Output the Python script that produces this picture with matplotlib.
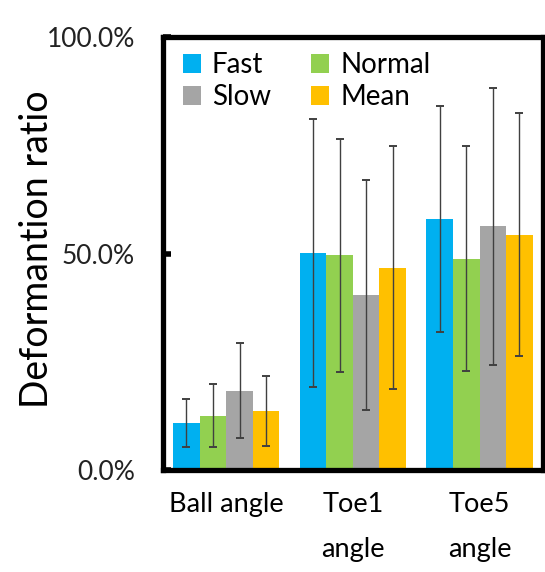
import matplotlib.pyplot as plt
import numpy as np
from matplotlib.ticker import PercentFormatter

plt.rcParams["font.family"] = ["Lato", "DejaVu Sans"]

categories = ["Ball angle", "Toe1\nangle", "Toe5\nangle"]
series = ["Fast", "Normal", "Slow", "Mean"]
colors = ["#00B0F0", "#92D050", "#A5A5A5", "#FFC000"]

fast = [10.9, 50.2, 58.0]
normal = [12.6, 49.6, 48.8]
slow = [18.4, 40.5, 56.3]
mean = [13.7, 46.8, 54.4]

fast_err = [5.5, 31.0, 26.0]
normal_err = [7.3, 27.0, 26.0]
slow_err = [11.0, 26.6, 32.0]
mean_err = [8.0, 28.0, 28.0]

values = [fast, normal, slow, mean]
errors = [fast_err, normal_err, slow_err, mean_err]

fig = plt.figure(figsize=(5.45, 5.72), dpi=100)
ax = fig.add_axes([0.299, 0.178, 0.697, 0.757])

x = np.arange(len(categories))
width = 0.21
handles = []
for i, (name, vals, errs, col) in enumerate(zip(series, values, errors, colors)):
    pos = x + (i - 1.5) * width
    h = ax.bar(pos, vals, width=width, color=col, label=name, zorder=2)
    ax.errorbar(pos, vals, yerr=errs, fmt="none", ecolor="#404040",
                elinewidth=1.0, capsize=3, capthick=1.4, zorder=3)
    handles.append(h)

ax.set_xlim(-0.5, 2.5)
ax.set_ylim(0, 100)
ax.set_yticks([0, 50, 100])
ax.yaxis.set_major_formatter(PercentFormatter(decimals=1))
ax.set_xticks(x)
ax.set_xticklabels(categories, linespacing=2.0)
ax.tick_params(axis="x", length=0, pad=15.5, labelsize=19.5)
ax.tick_params(axis="y", direction="in", length=6, width=4, labelsize=19,
               pad=20, labelcolor="#222222")

for sp in ax.spines.values():
    sp.set_linewidth(3.8)
    sp.set_color("black")

ax.set_ylabel("Deformantion ratio", fontsize=27)
ax.yaxis.set_label_coords(-0.284, 0.51)

order = [handles[0], handles[2], handles[1], handles[3]]
ax.legend(order, [h.get_label() for h in order], ncol=2, loc="upper left",
          bbox_to_anchor=(0.012, 1.0), frameon=False, fontsize=20,
          handlelength=0.65, handleheight=0.65, handletextpad=0.4,
          columnspacing=1.45, labelspacing=0.2, borderaxespad=0.25,
          borderpad=0.3)

fig.savefig("out.png", dpi=100)
